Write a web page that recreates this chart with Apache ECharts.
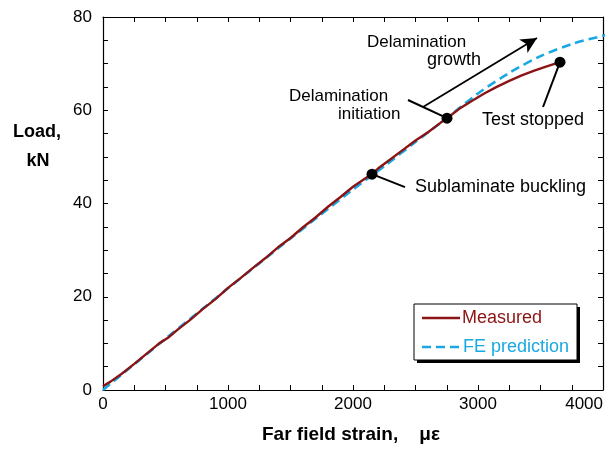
<!DOCTYPE html>
<html>
<head>
<meta charset="utf-8">
<script src="https://cdn.jsdelivr.net/npm/echarts@6/dist/echarts.min.js"></script>
<style>html,body{margin:0;padding:0;background:#fff}#c{width:610px;height:451px}</style>
</head>
<body>
<div id="c"></div>
<script>
// Measured load vs far field strain
var measuredStrain = [0, 60, 150, 250, 350, 450, 520, 600, 700, 800, 900, 1000, 1100, 1200, 1300, 1400, 1500, 1600, 1700, 1800, 1900, 2000, 2100, 2152, 2200, 2300, 2400, 2500, 2600, 2700, 2752, 2850, 2950, 3050, 3150, 3250, 3350, 3450, 3550, 3656];
var measuredLoad   = [0.8, 1.8, 3.5, 5.6, 7.8, 10.0, 11.2, 13.0, 15.1, 17.4, 19.5, 21.9, 24.0, 26.2, 28.3, 30.6, 32.6, 34.9, 37.0, 39.3, 41.4, 43.6, 45.4, 46.3, 47.5, 49.5, 51.5, 53.5, 55.3, 57.3, 58.3, 60.3, 62.0, 63.6, 65.0, 66.3, 67.5, 68.5, 69.4, 70.3];
// FE prediction
var feStrain = [0, 500, 1000, 1500, 2000, 2250, 2500, 2750, 3000, 3250, 3500, 3750, 4000, 4100];
var feLoad   = [0, 11.0, 21.8, 32.5, 43.0, 48.0, 53.2, 58.3, 63.6, 68.0, 71.6, 74.2, 76.0, 76.8];
// Events (sublaminate buckling, delamination initiation, test stopped)
var eventStrain = [2152, 2752, 3656];
var eventLoad   = [46.3, 58.3, 70.3];
// Axis ticks
var xTicks = [0, 1000, 2000, 3000, 4000];
var yTicks = [0, 20, 40, 60, 80];
var seriesNames = ['Measured', 'FE prediction'];

function zip(a, b) { return a.map(function (v, i) { return [v, b[i]]; }); }

var FONT = 'Liberation Sans, Arial, Helvetica, sans-serif';
var RED = '#8b1414';
var BLUE = '#1aa8e2';

var tickStyle = { show: true, inside: true, length: 5, lineStyle: { color: '#000', width: 1 } };
var minorStyle = { show: true, splitNumber: 4, length: 5, lineStyle: { color: '#000', width: 1 } };
var axisLine = { show: true, onZero: false, lineStyle: { color: '#000', width: 1.2 } };
var plain = function (v) { return String(v); };

var chart = echarts.init(document.getElementById('c'), null, { renderer: 'canvas' });
chart.setOption({
  animation: false,
  backgroundColor: '#fff',
  grid: { left: 103, right: 7, top: 17, bottom: 61, containLabel: false, outerBoundsMode: 'none' },
  xAxis: [{
    type: 'value', min: xTicks[0], max: xTicks[xTicks.length - 1], interval: xTicks[1] - xTicks[0],
    axisLine: axisLine, axisTick: tickStyle, minorTick: minorStyle, splitLine: { show: false },
    axisLabel: { color: '#000', fontSize: 17, fontFamily: FONT, margin: 6, formatter: plain, hideOverlap: false, alignMaxLabel: 'right' }
  }, {
    type: 'value', position: 'top', min: xTicks[0], max: xTicks[xTicks.length - 1], interval: xTicks[1] - xTicks[0],
    axisLine: axisLine, axisTick: tickStyle, minorTick: minorStyle, splitLine: { show: false },
    axisLabel: { show: false }
  }],
  yAxis: [{
    type: 'value', min: yTicks[0], max: yTicks[yTicks.length - 1], interval: yTicks[1] - yTicks[0],
    axisLine: axisLine, axisTick: tickStyle, minorTick: minorStyle, splitLine: { show: false },
    axisLabel: { color: '#000', fontSize: 17, fontFamily: FONT, margin: 11, formatter: plain }
  }, {
    type: 'value', position: 'right', min: yTicks[0], max: yTicks[yTicks.length - 1], interval: yTicks[1] - yTicks[0],
    axisLine: axisLine, axisTick: tickStyle, minorTick: minorStyle, splitLine: { show: false },
    axisLabel: { show: false }
  }],
  legend: { show: false },
  series: [{
    name: seriesNames[1], type: 'line', data: zip(feStrain, feLoad), smooth: 0.3,
    symbol: 'none', clip: true, z: 2,
    lineStyle: { color: BLUE, width: 2.6, type: [9, 5] }, itemStyle: { color: BLUE }
  }, {
    name: seriesNames[0], type: 'line', data: zip(measuredStrain, measuredLoad),
    symbol: 'none', clip: true, z: 3,
    lineStyle: { color: RED, width: 2.4 }, itemStyle: { color: RED },
    markLine: {
      silent: true, symbol: ['none', 'arrow'], symbolSize: [12, 16], animation: false,
      label: { show: false },
      lineStyle: { color: '#000', width: 1.8, type: 'solid' },
      data: [[{ coord: [2560, 60.7] }, { coord: [3472, 75.5] }]]
    }
  }, {
    name: 'Events', type: 'scatter', data: zip(eventStrain, eventLoad),
    symbol: 'circle', symbolSize: 11, z: 5,
    itemStyle: { color: '#000', opacity: 1 },
    markLine: {
      silent: true, symbol: ['none', 'none'], animation: false,
      label: { show: false },
      lineStyle: { color: '#000', width: 2, type: 'solid' },
      data: [
        [{ coord: [eventStrain[0], eventLoad[0]] }, { coord: [2416, 43.5] }],
        [{ coord: [eventStrain[1], eventLoad[1]] }, { coord: [2440, 62.2] }],
        [{ coord: [eventStrain[2], eventLoad[2]] }, { coord: [3520, 60.7] }]
      ]
    }
  }],
  graphic: [
    { type: 'text', left: 262, top: 425, style: { text: 'Far field strain,    με', font: 'bold 19px ' + FONT, fill: '#000' } },
    { type: 'text', x: 37, y: 132, style: { text: 'Load,', font: 'bold 18px ' + FONT, fill: '#000', textAlign: 'center', textVerticalAlign: 'middle' } },
    { type: 'text', x: 38, y: 161, style: { text: 'kN', font: 'bold 18px ' + FONT, fill: '#000', textAlign: 'center', textVerticalAlign: 'middle' } },
    { type: 'text', x: 367, y: 42, style: { text: 'Delamination', font: '17px ' + FONT, fill: '#000', textVerticalAlign: 'middle' } },
    { type: 'text', x: 427, y: 60, style: { text: 'growth', font: '18px ' + FONT, fill: '#000', textVerticalAlign: 'middle' } },
    { type: 'text', x: 289, y: 96, style: { text: 'Delamination', font: '17px ' + FONT, fill: '#000', textVerticalAlign: 'middle' } },
    { type: 'text', x: 338, y: 114, style: { text: 'initiation', font: '17px ' + FONT, fill: '#000', textVerticalAlign: 'middle' } },
    { type: 'text', x: 482, y: 120, style: { text: 'Test stopped', font: '18px ' + FONT, fill: '#000', textVerticalAlign: 'middle' } },
    { type: 'text', x: 415, y: 187, style: { text: 'Sublaminate buckling', font: '18px ' + FONT, fill: '#000', textVerticalAlign: 'middle' } },
    // legend box
    { type: 'rect', shape: { x: 417, y: 307, width: 163, height: 56 }, style: { fill: '#000' }, z: 10 },
    { type: 'rect', shape: { x: 414, y: 304, width: 163, height: 56 }, style: { fill: '#fff', stroke: '#000', lineWidth: 1 }, z: 11 },
    { type: 'line', shape: { x1: 422, y1: 318, x2: 460, y2: 318 }, style: { stroke: RED, lineWidth: 2.4 }, z: 12 },
    { type: 'line', shape: { x1: 422, y1: 347, x2: 460, y2: 347 }, style: { stroke: BLUE, lineWidth: 2.6, lineDash: [9, 5] }, z: 12 },
    { type: 'text', x: 462, y: 318, style: { text: seriesNames[0], font: '18px ' + FONT, fill: RED, textVerticalAlign: 'middle' }, z: 12 },
    { type: 'text', x: 463, y: 347, style: { text: seriesNames[1], font: '18px ' + FONT, fill: BLUE, textVerticalAlign: 'middle' }, z: 12 }
  ]
});
</script>
</body>
</html>
